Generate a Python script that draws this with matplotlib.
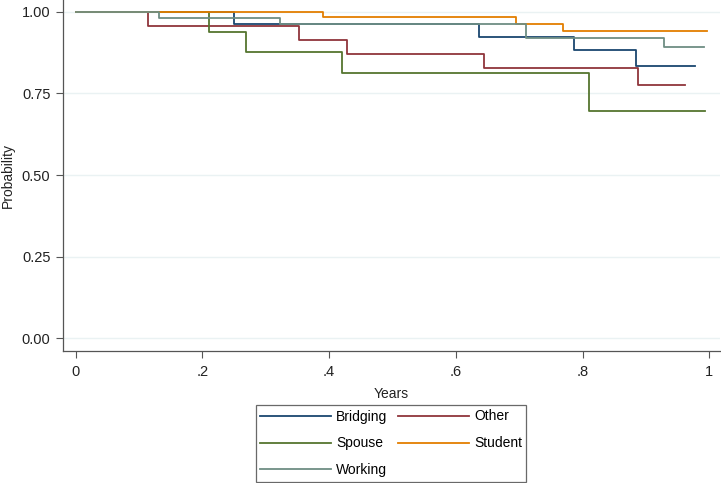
import matplotlib
matplotlib.use("Agg")
import matplotlib.pyplot as plt
from matplotlib.ticker import FixedLocator

plt.rcParams['font.family'] = ['Liberation Sans', 'DejaVu Sans']

# Kaplan-Meier step data (time, survival probability)
bridging_t = [0, 0.250, 0.636, 0.787, 0.885, 0.978]
bridging_s = [1, 0.962, 0.923, 0.882, 0.834, 0.834]

other_t = [0, 0.115, 0.352, 0.429, 0.645, 0.887, 0.962]
other_s = [1, 0.957, 0.913, 0.871, 0.828, 0.776, 0.776]

spouse_t = [0, 0.211, 0.269, 0.421, 0.811, 0.994]
spouse_s = [1, 0.938, 0.876, 0.813, 0.697, 0.697]

student_t = [0, 0.390, 0.695, 0.770, 0.997]
student_s = [1, 0.983, 0.963, 0.941, 0.941]

working_t = [0, 0.132, 0.322, 0.711, 0.928, 0.991]
working_s = [1, 0.982, 0.962, 0.921, 0.891, 0.891]

series = [
    ("Bridging", bridging_t, bridging_s, "#1a476f"),
    ("Other", other_t, other_s, "#90353b"),
    ("Spouse", spouse_t, spouse_s, "#55752f"),
    ("Student", student_t, student_s, "#e37e00"),
    ("Working", working_t, working_s, "#6e8e84"),
]

xticks = [0, 0.2, 0.4, 0.6, 0.8, 1.0]
xticklabels = ["0", ".2", ".4", ".6", ".8", "1"]
yticks = [0, 0.25, 0.5, 0.75, 1.0]
yticklabels = ["0.00", "0.25", "0.50", "0.75", "1.00"]

fig = plt.figure(figsize=(7.21, 4.83), dpi=100)
ax = fig.add_axes([63 / 721, (483 - 350.7) / 483, (720 - 63) / 721, 350.7 / 483])

handles = {}
for name, t, s, c in series:
    (ln,) = ax.step(t, s, where="post", color=c, lw=1.3, label=name)
    handles[name] = ln

ax.set_xlim(-0.0199, 1.017)
ax.set_ylim(-0.038, 1.036)

ax.xaxis.set_major_locator(FixedLocator(xticks))
ax.set_xticklabels(xticklabels)
ax.yaxis.set_major_locator(FixedLocator(yticks))
ax.set_yticklabels(yticklabels)

ax.grid(axis="y", color="#eaf2f3", lw=1.0)
ax.set_axisbelow(True)
for sp in ["top", "right"]:
    ax.spines[sp].set_visible(False)
for sp in ["left", "bottom"]:
    ax.spines[sp].set_color("#555555")
    ax.spines[sp].set_linewidth(0.9)

ax.tick_params(axis="both", labelsize=10.5, length=5, width=0.8, color="#555555",
               labelcolor="#222222")
ax.tick_params(axis="x", pad=5)
ax.tick_params(axis="y", pad=4)

ax.set_xlabel("Years", fontsize=10, color="#222222", labelpad=6)
ax.set_ylabel("Probability", fontsize=10, color="#222222", labelpad=5)

# legend filled row-wise: Bridging, Other / Spouse, Student / Working
order = ["Bridging", "Spouse", "Working", "Other", "Student"]
leg = fig.legend([handles[n] for n in order], order,
                 loc="lower center", bbox_to_anchor=(391 / 721, 1.5 / 483),
                 ncol=2, fontsize=10, frameon=True, fancybox=False,
                 handlelength=5.1, handletextpad=0.4, columnspacing=0.75,
                 labelspacing=0.93, borderpad=0.3, borderaxespad=0)
leg.get_frame().set_edgecolor("#444444")
leg.get_frame().set_linewidth(0.9)

fig.savefig("out.png", dpi=100)
